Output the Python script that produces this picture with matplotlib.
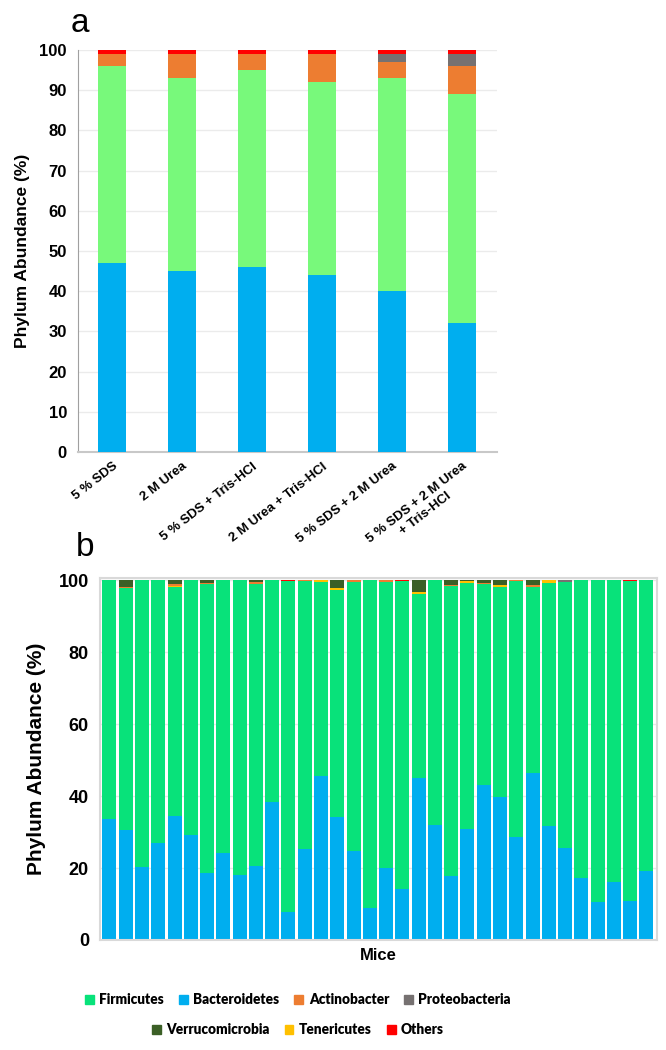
import matplotlib
matplotlib.use('Agg')
import matplotlib.pyplot as plt
from matplotlib.patches import Patch
import numpy as np

plt.rcParams['font.family'] = ['Liberation Sans', 'DejaVu Sans']

# ---- panel a data (extraction conditions) ----
conditions = ['5 % SDS', '2 M Urea', '5 % SDS + Tris-HCl', '2 M Urea + Tris-HCl',
              '5 % SDS + 2 M Urea', '5 % SDS + 2 M Urea\n+ Tris-HCl']
a_bacteroidetes = [47, 45, 46, 44, 40, 32]
a_firmicutes = [49, 48, 49, 48, 53, 57]
a_actinobacter = [3, 6, 4, 7, 4, 7]
a_proteobacteria = [0, 0, 0, 0, 2, 3]
a_others = [1, 1, 1, 1, 1, 1]

# ---- panel b data (individual mice) ----
b_bacteroidetes = [33.5, 30.5, 20.2, 27.0, 34.5, 29.1, 18.7, 24.2, 18.1, 20.7,
                   38.4, 7.8, 25.3, 45.6, 34.1, 24.8, 9.0, 20.0, 14.1, 44.9,
                   31.9, 17.7, 30.8, 43.2, 39.7, 28.7, 46.3, 31.6, 25.7, 17.2,
                   10.5, 16.1, 10.8, 19.1]
b_firmicutes = [66.5, 67.2, 79.8, 73.0, 63.5, 70.9, 80.2, 75.8, 81.9, 78.3,
                61.6, 92.0, 74.5, 53.9, 63.2, 74.7, 91.0, 79.6, 85.7, 51.3,
                68.1, 80.6, 68.4, 55.6, 58.3, 71.0, 51.9, 67.7, 73.8, 82.8,
                89.5, 83.9, 88.9, 80.9]
b_tenericutes = [0, 0, 0, 0, 0.5, 0, 0, 0, 0, 0,
                 0, 0, 0, 0.5, 0.6, 0, 0, 0, 0, 0.5,
                 0, 0, 0.5, 0, 0.6, 0, 0, 0.7, 0, 0,
                 0, 0, 0, 0]
b_actinobacter = [0, 0.5, 0, 0, 0.4, 0, 0.4, 0, 0, 0.5,
                  0, 0, 0.2, 0, 0, 0.5, 0, 0.4, 0, 0,
                  0, 0.3, 0, 0.3, 0, 0.3, 0.4, 0, 0, 0,
                  0, 0, 0, 0]
b_verrucomicrobia = [0, 1.8, 0, 0, 1.1, 0, 0.7, 0, 0, 0.5,
                     0, 0, 0, 0, 2.1, 0, 0, 0, 0, 3.3,
                     0, 1.4, 0.3, 0.9, 1.4, 0, 1.4, 0, 0, 0,
                     0, 0, 0, 0]
b_proteobacteria = [0, 0, 0, 0, 0, 0, 0, 0, 0, 0,
                    0, 0, 0, 0, 0, 0, 0, 0, 0, 0,
                    0, 0, 0, 0, 0, 0, 0, 0, 0.5, 0,
                    0, 0, 0, 0]
b_others = [0, 0, 0, 0, 0, 0, 0, 0, 0, 0,
            0, 0.2, 0, 0, 0, 0, 0, 0, 0.2, 0,
            0, 0, 0, 0, 0, 0, 0, 0, 0, 0,
            0, 0, 0.3, 0]

c_firm_a = '#78F97B'
c_firm_b = '#08E27A'
c_bact = '#00AEEF'
c_actino = '#ED7D31'
c_proteo = '#767171'
c_verru = '#3B5F26'
c_tener = '#FFC000'
c_others = '#FF0000'

fig = plt.figure(figsize=(6.66, 10.5), dpi=100)

# ---------------- panel a ----------------
ax1 = fig.add_axes([78/666, 1 - 452/1050, 419/666, 402/1050])
x = np.arange(len(conditions))
bottom = np.zeros(len(conditions))
for vals, col in [(a_bacteroidetes, c_bact), (a_firmicutes, c_firm_a),
                  (a_actinobacter, c_actino), (a_proteobacteria, c_proteo),
                  (a_others, c_others)]:
    ax1.bar(x, vals, 0.4, bottom=bottom, color=col, zorder=3)
    bottom += np.array(vals)
ax1.set_xlim(-0.49, 5.5)
ax1.set_ylim(0, 100)
ax1.set_yticks(range(0, 101, 10))
ax1.grid(axis='y', color='#EBEBEB', linewidth=1, zorder=0)
for s in ['top', 'right']:
    ax1.spines[s].set_visible(False)
ax1.spines['left'].set_color('#A0A0A0')
ax1.spines['bottom'].set_color('#C8C8C8')
ax1.spines['bottom'].set_linewidth(1.5)
ax1.tick_params(length=0, labelsize=12, pad=8)
for t in ax1.get_yticklabels():
    t.set_fontweight('bold')
ax1.set_xticks(x)
ax1.set_xticklabels(conditions, rotation=38, ha='right', rotation_mode='anchor',
                    fontsize=9.5, fontweight='bold', multialignment='center')
ax1.tick_params(axis='x', pad=6)
ax1.set_ylabel('Phylum Abundance (%)', fontsize=12.5, fontweight='bold', labelpad=7)
fig.text(80/666, 1 - 24/1050, 'a', fontsize=24, ha='center', va='center')

# ---------------- panel b ----------------
ax2 = fig.add_axes([100/666, 1 - 940/1050, 557/666, 362/1050])
xm = np.arange(len(b_bacteroidetes))
bottom = np.zeros(len(xm))
for vals, col in [(b_bacteroidetes, c_bact), (b_firmicutes, c_firm_b),
                  (b_tenericutes, c_tener), (b_actinobacter, c_actino),
                  (b_verrucomicrobia, c_verru), (b_proteobacteria, c_proteo),
                  (b_others, c_others)]:
    ax2.bar(xm, vals, 0.86, bottom=bottom, color=col, zorder=2)
    bottom += np.array(vals)
ax2.set_xlim(-0.58, 33.65)
ax2.set_ylim(0, 100.6)
ax2.set_yticks(range(0, 101, 20))
ax2.set_xticks([])
ax2.grid(axis='y', color='#BBBBBB', alpha=0.35, linewidth=1, zorder=3)
for s in ax2.spines.values():
    s.set_color('#D9D9D9')
    s.set_linewidth(1.5)
ax2.tick_params(length=0, labelsize=13, pad=8)
for t in ax2.get_yticklabels():
    t.set_fontweight('bold')
ax2.set_ylabel('Phylum Abundance (%)', fontsize=15, fontweight='bold', labelpad=9)
ax2.set_xlabel('Mice', fontsize=12, fontweight='bold', labelpad=6)
fig.text(85/666, 1 - 547/1050, 'b', fontsize=24, ha='center', va='center')

# legend: two centred rows
row1 = [('Firmicutes', c_firm_b), ('Bacteroidetes', c_bact),
        ('Actinobacter', c_actino), ('Proteobacteria', c_proteo)]
row2 = [('Verrucomicrobia', c_verru), ('Tenericutes', c_tener), ('Others', c_others)]
leg_font = {'family': ['Lato', 'Liberation Sans'], 'weight': 'heavy', 'size': 9.8}
for row, yy in [(row1, 1 - 1000/1050), (row2, 1 - 1030/1050)]:
    handles = [Patch(color=c) for _, c in row]
    fig.legend(handles, [n for n, _ in row], loc='center', bbox_to_anchor=(298/666, yy),
               ncol=len(row), frameon=False, prop=leg_font, handlelength=0.65,
               handleheight=0.65, handletextpad=0.4, columnspacing=1.1)

fig.savefig('out.png', dpi=100)
